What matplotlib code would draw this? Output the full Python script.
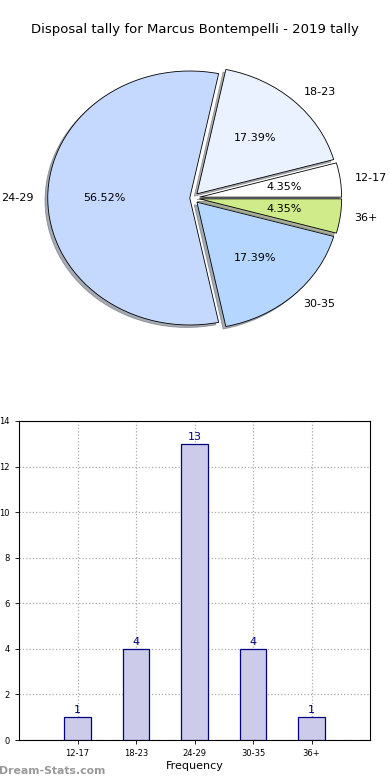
import matplotlib
matplotlib.use("Agg")
import matplotlib.pyplot as plt

categories = ["12-17", "18-23", "24-29", "30-35", "36+"]
counts = [1, 4, 13, 4, 1]
pie_colors = ["#ffffff", "#eaf1ff", "#c5d9ff", "#b5d6ff", "#d0eb8a"]
explode = [0.05, 0.045, 0.02, 0.045, 0.05]
title = "Disposal tally for Marcus Bontempelli - 2019 tally"

W, H = 390, 780
fig = plt.figure(figsize=(W / 100, H / 100), dpi=100)

# Pie axes (non-equal aspect, like the original)
Rx, Ry = 142.0, 127.0
xc, yc = 192.6, 198.0
half_w, half_h = 1.3, 1.25
ax1 = fig.add_axes([(xc - half_w * Rx) / W, 1 - (yc + half_h * Ry) / H,
                    2 * half_w * Rx / W, 2 * half_h * Ry / H])
ax1.pie(counts, labels=categories, colors=pie_colors, explode=explode,
        autopct="%.2f%%", shadow=dict(ox=-0.014, oy=-0.014, shade=0.6),
        startangle=0,
        wedgeprops=dict(edgecolor="black", linewidth=0.6),
        textprops=dict(fontsize=8))
ax1.set_xlim(-half_w, half_w)
ax1.set_ylim(-half_h, half_h)
ax1.set_aspect("auto")
ax1.axis("off")
fig.text(0.5, 1 - 30 / H, title, ha="center", va="center", fontsize=9.5)

# Bar axes
ax2 = fig.add_axes([19 / W, 1 - 740 / H, 351 / W, 319 / H])
x = list(range(len(categories)))
ax2.bar(x, counts, width=0.45, color="#ccccea", edgecolor="#000080",
        linewidth=0.9, zorder=3)
for xi, c in zip(x, counts):
    ax2.text(xi, c + 0.1, str(c), ha="center", va="bottom", color="#000080",
             fontsize=8)
ax2.set_xlim(-1, 5)
ax2.set_ylim(0, 14)
ax2.set_xticks(x)
ax2.set_xticklabels(categories)
ax2.set_yticks(range(0, 15, 2))
ax2.tick_params(labelsize=6, length=3, width=0.6)
ax2.grid(True, linestyle=":", color="#aaaaaa", linewidth=0.9, zorder=0)
ax2.set_xlabel("Frequency", fontsize=8, labelpad=2)
ax2.set_ylabel("Disposal Tally", fontsize=8)
for s in ax2.spines.values():
    s.set_linewidth(0.8)

fig.text(-1 / W, 1 - 771 / H, "Dream-Stats.com", ha="left", va="center",
         fontsize=7.8, color="#999999", fontweight="bold")

fig.savefig("out.png", dpi=100)
